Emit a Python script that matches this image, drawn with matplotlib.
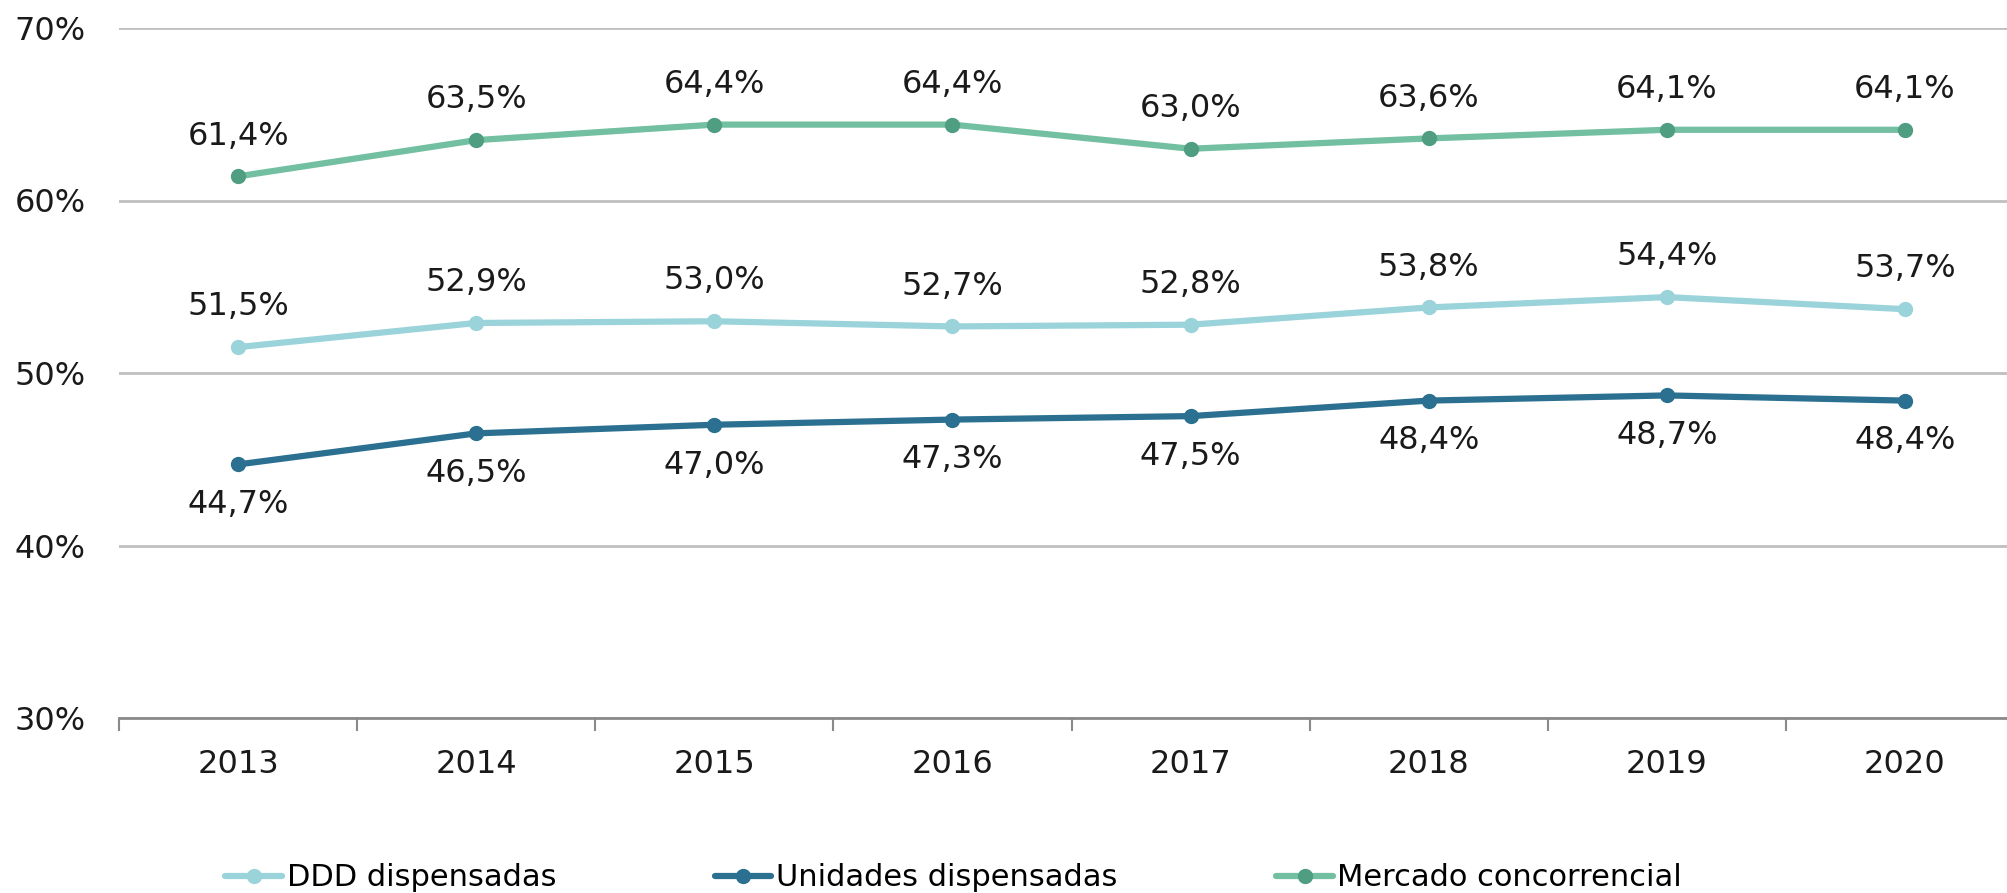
import numpy as np
import matplotlib
matplotlib.use("Agg")
import matplotlib.pyplot as plt

plt.rcParams['font.family'] = ['DejaVu Sans']

years = ['2013', '2014', '2015', '2016', '2017', '2018', '2019', '2020']
ddd = [51.5, 52.9, 53.0, 52.7, 52.8, 53.8, 54.4, 53.7]
unidades = [44.7, 46.5, 47.0, 47.3, 47.5, 48.4, 48.7, 48.4]
mercado = [61.4, 63.5, 64.4, 64.4, 63.0, 63.6, 64.1, 64.1]

series = [
    ("DDD dispensadas", ddd, "#9bd3da", "#9bd3da", 1),
    ("Unidades dispensadas", unidades, "#2b7090", "#2b7090", -1),
    ("Mercado concorrencial", mercado, "#72bfa2", "#4f9e82", 1),
]

fig = plt.figure(figsize=(20.08, 8.93), dpi=100)
ax = fig.add_axes([119 / 2008, 1 - 718 / 893, (2008 - 119) / 2008, (718 - 28) / 893])

x = np.arange(len(years))
for name, vals, col, mcol, side in series:
    ax.plot(x, vals, color=col, linewidth=4.5, marker='o', markersize=10,
            markerfacecolor=mcol, markeredgecolor=mcol, label=name,
            solid_capstyle='round', zorder=3)
    for xi, v in zip(x, vals):
        txt = "{:.1f}%".format(v).replace('.', ',')
        ax.annotate(txt, (xi, v), xytext=(0, 29 * side), textcoords='offset points',
                    ha='center', va='center', fontsize=23, color='#1a1a1a')

ax.set_yticks([30, 40, 50, 60, 70])
ax.set_yticklabels(["30%", "40%", "50%", "60%", "70%"])
ax.set_ylim(30, 70)
ax.set_xticks(x)
ax.set_xticklabels(years)
ax.set_xticks(np.arange(-0.5, 7, 1), minor=True)
# set limits after the ticks, so they are not widened again
ax.set_xlim(-0.5, 7 + (2008 - 1905) / 238)

ax.grid(axis='y', color='#c0c0c0', linewidth=2)
ax.set_axisbelow(True)
for s in ['top', 'right', 'left']:
    ax.spines[s].set_visible(False)
ax.spines['bottom'].set_color('#8a8a8a')
ax.spines['bottom'].set_linewidth(2)

ax.tick_params(axis='y', length=0, pad=24, labelsize=23, labelcolor='#1a1a1a')
ax.tick_params(axis='x', which='major', length=0, pad=22, labelsize=23, labelcolor='#1a1a1a')
ax.tick_params(axis='x', which='minor', length=9, width=1.5, color='#8a8a8a', direction='out')

fig.legend(loc='center', bbox_to_anchor=(0.475, 0.017), ncol=3, frameon=False,
           fontsize=22, handlelength=1.85, handletextpad=0.15, columnspacing=5.2)

fig.savefig("out.png", dpi=100)
